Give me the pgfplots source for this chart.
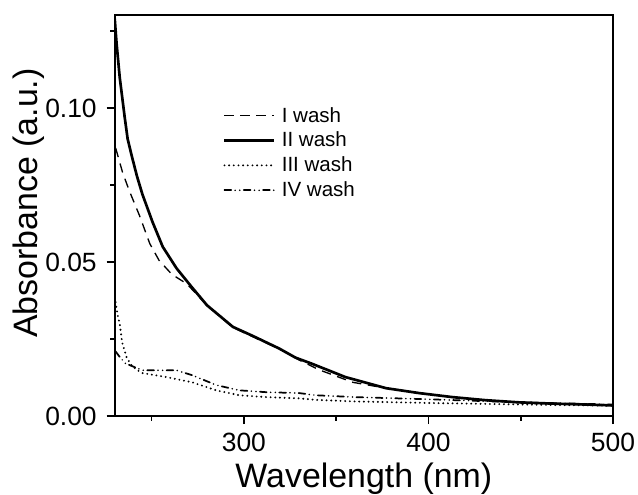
\documentclass[border=0pt]{standalone}
\usepackage{fontspec}
\setmainfont{Liberation Sans}
\usepackage{pgfplots}
\pgfplotsset{compat=1.18}
\begin{document}
\begin{tikzpicture}
\begin{axis}[
 scale only axis, width=373.5pt, height=301pt,
 xmin=230, xmax=500, ymin=0, ymax=0.1303,
 xtick={300,400,500}, minor xtick={250,350,450},
 ytick={0,0.05,0.10}, minor ytick={0.025,0.075,0.125},
 yticklabel style={/pgf/number format/fixed,/pgf/number format/precision=2,/pgf/number format/fixed zerofill, xshift=-4pt},
 xticklabel style={yshift=-3pt},
 scaled y ticks=false,
 tick align=outside, tick pos=left,
 major tick length=6pt, minor tick length=3.5pt,
 every tick/.style={black, line width=1.2pt},
 axis line style={line width=1.6pt},
 /pgf/number format/assume math mode=true,
 tick label style={font=\fontsize{19.8}{22}\selectfont},
 label style={font=\fontsize{25.4}{28}\selectfont},
 xlabel={Wavelength (nm)}, ylabel={Absorbance (a.u.)},
 xlabel style={at={(rel axis cs:0.5,0)}, anchor=center, yshift=-47pt},
 ylabel style={at={(rel axis cs:0,0.531)}, anchor=center, yshift=64.5pt},
 legend cell align=left,
 legend style={at={(rel axis cs:0.217,0.777)}, anchor=north west, draw=none, fill=none,
   font=\fontsize{15.4}{17}\selectfont, row sep=2pt, inner sep=0pt,
   /tikz/every odd column/.append style={column sep=3pt}},
 legend image code/.code={\draw[#1] (0pt,0pt) -- (37pt,0pt);},
]
\addplot[black, line width=1pt, dash pattern=on 7pt off 5pt] coordinates {
(230.5,0.087) (231,0.086) (234.3,0.079) (238,0.073) (243.5,0.065) (249,0.056) (254,0.0506)
(261,0.046) (269,0.043) (280,0.036) (294,0.0288) (312,0.0238) (320,0.0216) (330,0.0182)
(341,0.0150) (359,0.0110) (377,0.0091) (395,0.0075) (413,0.0062) (431,0.0052) (449,0.0045)
(467,0.0041) (485,0.0038) (500,0.0035)};
\addlegendentry{I wash}
\addplot[black, line width=2pt] coordinates {
(230,0.129) (231,0.121) (232.7,0.110) (235.4,0.097) (237,0.090) (239,0.085) (242,0.078) (245,0.072)
(250.5,0.063) (256,0.055) (263.5,0.048) (271.6,0.042) (280,0.036) (294,0.029) (305,0.026)
(319,0.022) (328,0.019) (337,0.017) (355,0.0127) (377,0.0091) (395,0.0075) (413,0.0062)
(431,0.0052) (449,0.0045) (467,0.0041) (485,0.0038) (500,0.0035)};
\addlegendentry{II wash}
\addplot[black, line width=1.6pt, dash pattern=on 0pt off 3.5pt, line cap=round] coordinates {
(230.5,0.037) (231.5,0.033) (232.7,0.030) (234,0.024) (236.5,0.019) (239,0.0166) (242,0.015)
(245,0.014) (258,0.0127) (272,0.011) (285,0.0084) (297.5,0.0068) (312,0.0062) (330,0.0058)
(339,0.0053) (360,0.0048) (400,0.0043) (450,0.0038) (500,0.0034)};
\addlegendentry{III wash}
\addplot[black, line width=1.3pt, line cap=round, dash pattern=on 5pt off 3pt on 0pt off 3.5pt on 0pt off 3pt] coordinates {
(230.5,0.021) (233,0.019) (236,0.017) (238,0.0166) (245,0.0149) (254,0.0149) (263.5,0.0149)
(272,0.0133) (285,0.0101) (297.5,0.0084) (312,0.0078) (330,0.0075) (339,0.0068) (360,0.0062)
(400,0.0055) (450,0.0045) (500,0.0038)};
\addlegendentry{IV wash}
\end{axis}
\pgfresetboundingbox
\path[use as bounding box] ([xshift=-86pt,yshift=-59pt]current axis.south west) rectangle ([xshift=18.75pt,yshift=11pt]current axis.north east);
\end{tikzpicture}
\end{document}
